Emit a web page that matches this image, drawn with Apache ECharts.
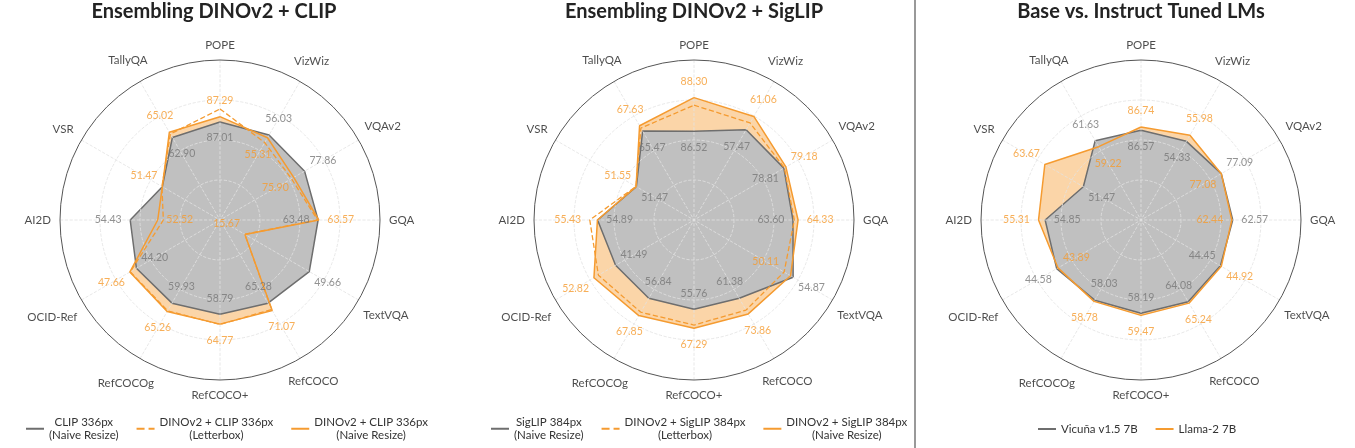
<!DOCTYPE html>
<html lang="en">
<head>
<meta charset="UTF-8">
<title>Radar comparison</title>
<script src="https://cdn.jsdelivr.net/npm/echarts@6/dist/echarts.min.js"></script>
<style>
  html, body { margin: 0; padding: 0; background: #fff; }
  #chart { width: 1355px; height: 448px; }
</style>
</head>
<body>
<div id="chart"></div>
<script>
const categories = ['POPE', 'VizWiz', 'VQAv2', 'GQA', 'TextVQA', 'RefCOCO', 'RefCOCO+', 'RefCOCOg', 'OCID-Ref', 'AI2D', 'VSR', 'TallyQA'];
// every spoke has its own scale (value at the centre / value at the outer ring)
const axisMin = [81.8, 33.1, 62.6, 49.5, 2.5, -1.3, 1.7, 7.0, 0.4, 48.2, 33.2, 29.8];
const axisMax = [90.3, 70.5, 87.6, 72.3, 75.7, 109.6, 98.6, 95.2, 73.0, 59.3, 77.1, 85.4];

const clip336 = [87.01, 56.03, 77.86, 63.48, 49.66, 65.28, 58.79, 59.93, 44.20, 54.43, 51.47, 62.90];
const dinoClipLetterbox = [87.70, 54.0, 75.5, 63.4, 15.6, 70.3, 65.0, 64.8, 47.4, 52.13, 51.6, 64.3];
const dinoClipNaive = [87.29, 55.31, 75.90, 63.57, 15.67, 71.07, 64.77, 65.26, 47.66, 52.52, 51.47, 65.02];

const siglip384 = [86.52, 57.47, 78.81, 63.60, 54.87, 61.38, 55.76, 56.84, 41.49, 54.89, 51.47, 65.47];
const dinoSiglipLetterbox = [87.9, 59.3, 78.9, 63.8, 50.11, 70.8, 65.3, 65.7, 50.5, 55.43, 51.6, 66.7];
const dinoSiglipNaive = [88.30, 61.06, 79.18, 64.33, 53.5, 73.86, 67.29, 67.85, 52.82, 54.9, 51.55, 67.63];
// numbers printed in orange on the middle panel
const dinoSiglipPrinted = [88.30, 61.06, 79.18, 64.33, 50.11, 73.86, 67.29, 67.85, 52.82, 55.43, 51.55, 67.63];

const vicuna7b = [86.57, 54.33, 77.09, 62.57, 44.45, 64.08, 58.19, 58.03, 44.58, 54.85, 51.47, 61.63];
const llama2_7b = [86.74, 55.98, 77.08, 62.44, 44.92, 65.24, 59.47, 58.78, 43.89, 55.31, 63.67, 59.22];

const FONT = 'Lato';
const ORANGE = '#f59b30';
const GREY = '#6e6e6e';

const panels = [
  { title: 'Ensembling DINOv2 + CLIP', titleX: 214, cx: 220, legendLeft: 25,
    base: clip336, baseName: 'CLIP 336px\n(Naive Resize)',
    dash: dinoClipLetterbox, dashName: 'DINOv2 + CLIP 336px\n(Letterbox)',
    main: dinoClipNaive, mainName: 'DINOv2 + CLIP 336px\n(Naive Resize)',
    printed: dinoClipNaive },
  { title: 'Ensembling DINOv2 + SigLIP', titleX: 694, cx: 694, legendLeft: 490,
    base: siglip384, baseName: 'SigLIP 384px\n(Naive Resize)',
    dash: dinoSiglipLetterbox, dashName: 'DINOv2 + SigLIP 384px\n(Letterbox)',
    main: dinoSiglipNaive, mainName: 'DINOv2 + SigLIP 384px\n(Naive Resize)',
    printed: dinoSiglipPrinted },
  { title: 'Base vs. Instruct Tuned LMs', titleX: 1141, cx: 1141, legendLeft: 1037,
    base: vicuna7b, baseName: 'Vicuña v1.5 7B',
    main: llama2_7b, mainName: 'Llama-2 7B',
    printed: llama2_7b }
];

const norm = (i, v) => (v - axisMin[i]) / (axisMax[i] - axisMin[i]);
const ring = vals => vals.map((v, i) => [norm(i, v), i * 30]).concat([[norm(0, vals[0]), 360]]);
const rad = i => i * Math.PI / 6;
const push = (i, d) => [Math.sin(rad(i)) * d, -Math.cos(rad(i)) * d];

const measure = document.createElement('canvas').getContext('2d');
measure.font = '11.5px ' + FONT;

// numbers sit outside the vertex of the larger series and inside for the smaller one
function valueLabels(k, vals, other, color, z, dropTies) {
  return {
    type: 'scatter', coordinateSystem: 'polar', polarIndex: k, symbolSize: 1, clip: false, silent: true, z: z,
    itemStyle: { color: 'rgba(0,0,0,0)' },
    label: { show: true, position: 'inside', formatter: '{b}', color: color, textBorderWidth: 0, fontFamily: FONT, fontSize: 10.5 },
    data: vals.map((v, i) => {
      const d = (16 + 6 * Math.abs(Math.sin(rad(i)))) * (v >= other[i] ? 1 : -1);
      const txt = dropTies && v === other[i] ? '' : v.toFixed(2);
      return { name: txt, value: [norm(i, v), i * 30], label: { offset: push(i, d) } };
    })
  };
}

function nameLabels(k) {
  return {
    type: 'scatter', coordinateSystem: 'polar', polarIndex: k, symbolSize: 1, clip: false, silent: true, z: 5,
    itemStyle: { color: 'rgba(0,0,0,0)' },
    label: { show: true, position: 'inside', formatter: '{b}', color: '#1e1e1e', textBorderWidth: 0, fontFamily: FONT, fontSize: 11.5 },
    data: categories.map((c, i) => {
      const w = measure.measureText(c).width;
      const d = 9 + Math.abs(Math.sin(rad(i))) * w / 2 + Math.abs(Math.cos(rad(i))) * 6;
      return { name: c, value: [1, i * 30], label: { offset: push(i, d) } };
    })
  };
}

const option = {
  animation: false,
  title: [], polar: [], angleAxis: [], radiusAxis: [], legend: [], series: [],
  graphic: [{ type: 'line', shape: { x1: 915, y1: 0, x2: 915, y2: 448 }, style: { stroke: '#777', lineWidth: 1.5 } }]
};

panels.forEach((p, k) => {
  option.title.push({
    text: p.title, left: p.titleX, top: 2, textAlign: 'center', padding: 0,
    textStyle: { fontFamily: FONT, fontSize: 20, fontWeight: 'bold', color: '#232323' }
  });
  option.polar.push({ center: [p.cx, 220], radius: 160 });
  // grid drawn over the filled areas, under the outlines
  option.angleAxis.push({
    polarIndex: k, type: 'value', min: 0, max: 360, interval: 30, startAngle: 90, clockwise: true, z: 3,
    axisLine: { lineStyle: { color: '#555', width: 1 } },
    axisTick: { show: false }, axisLabel: { show: false },
    splitLine: { lineStyle: { color: '#e2e2e2', type: 'dashed', width: 0.8 } }
  });
  option.radiusAxis.push({
    polarIndex: k, type: 'value', min: 0, max: 1, interval: 0.25, z: 3,
    axisLine: { show: false }, axisTick: { show: false }, axisLabel: { show: false },
    splitLine: { lineStyle: { color: ['#e2e2e2', '#e2e2e2', '#e2e2e2', '#e2e2e2', 'rgba(0,0,0,0)'], type: 'dashed', width: 0.8 } }
  });

  option.series.push({
    type: 'line', coordinateSystem: 'polar', polarIndex: k, symbol: 'none', silent: true, z: 1,
    lineStyle: { width: 0 }, areaStyle: { color: ORANGE, opacity: 0.42 },
    data: ring(p.main)
  });
  option.series.push({
    name: p.baseName, type: 'line', coordinateSystem: 'polar', polarIndex: k, symbol: 'none', silent: true, z: 2,
    itemStyle: { color: GREY }, lineStyle: { color: GREY, width: 1.5 },
    areaStyle: { color: 'rgb(192,192,192)', opacity: 1 },
    data: ring(p.base)
  });
  if (p.dash) {
    option.series.push({
      name: p.dashName, type: 'line', coordinateSystem: 'polar', polarIndex: k, symbol: 'none', silent: true, z: 4,
      itemStyle: { color: ORANGE }, lineStyle: { color: ORANGE, width: 1.3, type: 'dashed' },
      data: ring(p.dash)
    });
  }
  option.series.push({
    name: p.mainName, type: 'line', coordinateSystem: 'polar', polarIndex: k, symbol: 'none', silent: true, z: 4,
    itemStyle: { color: ORANGE }, lineStyle: { color: ORANGE, width: 1.5 },
    data: ring(p.main)
  });

  option.series.push(valueLabels(k, p.base, p.printed, '#777', 5, true));
  option.series.push(valueLabels(k, p.printed, p.base, ORANGE, 6, false));
  option.series.push(nameLabels(k));

  option.legend.push({
    left: p.legendLeft, top: p.dash ? 416 : 423, padding: 0,
    itemWidth: 18, itemHeight: 10, itemGap: 17, itemTextGap: 7, selectedMode: false,
    itemStyle: { opacity: 0, borderWidth: 0 },
    lineStyle: { width: 2 },
    data: p.dash ? [p.baseName, p.dashName, p.mainName] : [p.baseName, p.mainName],
    formatter: name => name.split('\n').map(s => '{c|' + s + '}').join('\n'),
    textStyle: { rich: { c: { align: 'center', fontFamily: FONT, fontSize: 11.5, lineHeight: 13.5, color: '#333' } } }
  });
});

const chart = echarts.init(document.getElementById('chart'));
chart.setOption(option);
</script>
</body>
</html>
